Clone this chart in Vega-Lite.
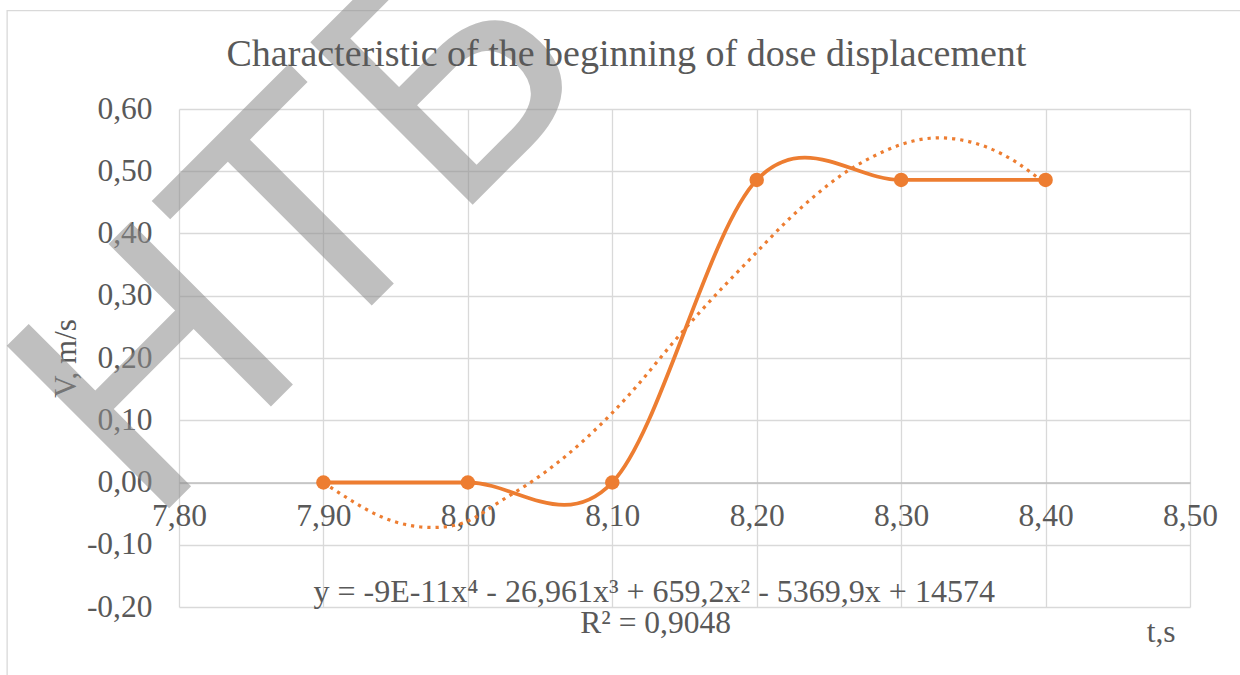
{
  "$schema": "https://vega.github.io/schema/vega-lite/v6.json",
  "width": 1011,
  "height": 498,
  "autosize": {"type": "none"},
  "padding": {"left": 179, "top": 109, "right": 50, "bottom": 68},
  "background": "white",
  "config": {"view": {"stroke": null}},
  "datasets": {
    "measured": [
      {"t": 7.9, "v": 0.0},
      {"t": 8.0, "v": 0.0},
      {"t": 8.1, "v": 0.0},
      {"t": 8.2, "v": 0.486},
      {"t": 8.3, "v": 0.486},
      {"t": 8.4, "v": 0.486}
    ],
    "trend": [
      {"t": 7.90, "v": 0.000},
      {"t": 7.92, "v": -0.030},
      {"t": 7.94, "v": -0.055},
      {"t": 7.96, "v": -0.069},
      {"t": 7.98, "v": -0.072},
      {"t": 8.00, "v": -0.062},
      {"t": 8.02, "v": -0.034},
      {"t": 8.04, "v": -0.005},
      {"t": 8.06, "v": 0.028},
      {"t": 8.08, "v": 0.067},
      {"t": 8.10, "v": 0.112},
      {"t": 8.12, "v": 0.163},
      {"t": 8.14, "v": 0.219},
      {"t": 8.16, "v": 0.272},
      {"t": 8.18, "v": 0.322},
      {"t": 8.20, "v": 0.370},
      {"t": 8.22, "v": 0.418},
      {"t": 8.24, "v": 0.460},
      {"t": 8.26, "v": 0.496},
      {"t": 8.28, "v": 0.523},
      {"t": 8.30, "v": 0.543},
      {"t": 8.32, "v": 0.553},
      {"t": 8.34, "v": 0.551},
      {"t": 8.36, "v": 0.538},
      {"t": 8.38, "v": 0.514},
      {"t": 8.40, "v": 0.480}
    ],
    "title": [
      {"label": "Characteristic of the beginning of dose displacement"}
    ],
    "equation": [
      {"label": "y = -9E-11x⁴ - 26,961x³ + 659,2x² - 5369,9x + 14574"}
    ],
    "rsq": [
      {"label": "R² = 0,9048"}
    ],
    "xtitle": [
      {"label": "t,s"}
    ],
    "watermark": [
      {"label": "НТБ"}
    ],
    "frame": [
      {"name": "chart area"}
    ]
  },
  "layer": [
    {
      "data": {"name": "frame"},
      "mark": {"type": "rect", "fill": null, "stroke": "#D9D9D9", "strokeWidth": 1.3, "clip": false},
      "encoding": {
        "x": {"datum": 7.681, "type": "quantitative"},
        "x2": {"datum": 8.65},
        "y": {"datum": 0.758, "type": "quantitative"},
        "y2": {"datum": -0.4}
      }
    },
    {
      "data": {"name": "watermark"},
      "mark": {
        "type": "text",
        "font": "DejaVu Sans",
        "fontSize": 315,
        "angle": 315,
        "fill": "#8C8C8C",
        "opacity": 0.55,
        "align": "center",
        "baseline": "middle"
      },
      "encoding": {
        "text": {"field": "label"},
        "x": {"datum": 7.8895, "type": "quantitative"},
        "y": {"datum": 0.398, "type": "quantitative"}
      }
    },
    {
      "data": {"name": "trend"},
      "mark": {
        "type": "line",
        "color": "#ED7D31",
        "strokeWidth": 3.2,
        "strokeDash": [3.2, 5],
        "interpolate": "natural"
      },
      "encoding": {
        "x": {
          "field": "t",
          "type": "quantitative",
          "scale": {"domain": [7.8, 8.5], "nice": false, "zero": false},
          "axis": {
            "values": [7.8, 7.9, 8.0, 8.1, 8.2, 8.3, 8.4, 8.5],
            "labelExpr": "replace(replace(format(datum.value, '.2f'), '.', ','), '−', '-')",
            "offset": -124.5,
            "title": null,
            "ticks": false,
            "domain": true,
            "domainColor": "#BFBFBF",
            "domainWidth": 1.5,
            "grid": true,
            "gridColor": "#D9D9D9",
            "gridWidth": 1.3,
            "labelFont": "Liberation Serif",
            "labelFontSize": 31.5,
            "labelColor": "#595959",
            "labelPadding": 18,
            "labelBaseline": "top",
            "labelFlush": false,
            "labelOverlap": false
          }
        },
        "y": {
          "field": "v",
          "type": "quantitative",
          "scale": {"domain": [-0.2, 0.6], "nice": false, "zero": false},
          "axis": {
            "values": [-0.2, -0.1, 0.0, 0.1, 0.2, 0.3, 0.4, 0.5, 0.6],
            "labelExpr": "replace(replace(format(datum.value, '.2f'), '.', ','), '−', '-')",
            "title": "V, m/s",
            "titleFont": "Liberation Serif",
            "titleFontSize": 31,
            "titleFontWeight": "normal",
            "titleColor": "#595959",
            "titlePadding": 4,
            "ticks": false,
            "domain": false,
            "grid": true,
            "gridColor": "#D9D9D9",
            "gridWidth": 1.3,
            "labelFont": "Liberation Serif",
            "labelFontSize": 31.5,
            "labelColor": "#595959",
            "labelPadding": 27,
            "labelFlush": false,
            "labelOverlap": false
          }
        }
      }
    },
    {
      "data": {"name": "measured"},
      "mark": {
        "type": "line",
        "color": "#ED7D31",
        "strokeWidth": 3.8,
        "interpolate": "cardinal",
        "tension": 0
      },
      "encoding": {
        "x": {"field": "t", "type": "quantitative"},
        "y": {"field": "v", "type": "quantitative"}
      }
    },
    {
      "data": {"name": "measured"},
      "mark": {"type": "point", "filled": true, "shape": "circle", "size": 210, "color": "#ED7D31", "opacity": 1},
      "encoding": {
        "x": {"field": "t", "type": "quantitative"},
        "y": {"field": "v", "type": "quantitative"}
      }
    },
    {
      "data": {"name": "title"},
      "mark": {
        "type": "text",
        "font": "Liberation Serif",
        "fontSize": 38,
        "fill": "#595959",
        "align": "center",
        "baseline": "alphabetic"
      },
      "encoding": {
        "text": {"field": "label"},
        "x": {"datum": 8.1098, "type": "quantitative"},
        "y": {"datum": 0.669, "type": "quantitative"}
      }
    },
    {
      "data": {"name": "equation"},
      "mark": {
        "type": "text",
        "font": "Liberation Serif",
        "fontSize": 32,
        "fill": "#595959",
        "align": "center",
        "baseline": "alphabetic"
      },
      "encoding": {
        "text": {"field": "label"},
        "x": {"datum": 8.129, "type": "quantitative"},
        "y": {"datum": -0.1912, "type": "quantitative"}
      }
    },
    {
      "data": {"name": "rsq"},
      "mark": {
        "type": "text",
        "font": "Liberation Serif",
        "fontSize": 31.5,
        "fill": "#595959",
        "align": "center",
        "baseline": "alphabetic"
      },
      "encoding": {
        "text": {"field": "label"},
        "x": {"datum": 8.13, "type": "quantitative"},
        "y": {"datum": -0.2410, "type": "quantitative"}
      }
    },
    {
      "data": {"name": "xtitle"},
      "mark": {
        "type": "text",
        "font": "Liberation Serif",
        "fontSize": 31.5,
        "fill": "#595959",
        "align": "center",
        "baseline": "alphabetic"
      },
      "encoding": {
        "text": {"field": "label"},
        "x": {"datum": 8.48, "type": "quantitative"},
        "y": {"datum": -0.2565, "type": "quantitative"}
      }
    }
  ]
}
